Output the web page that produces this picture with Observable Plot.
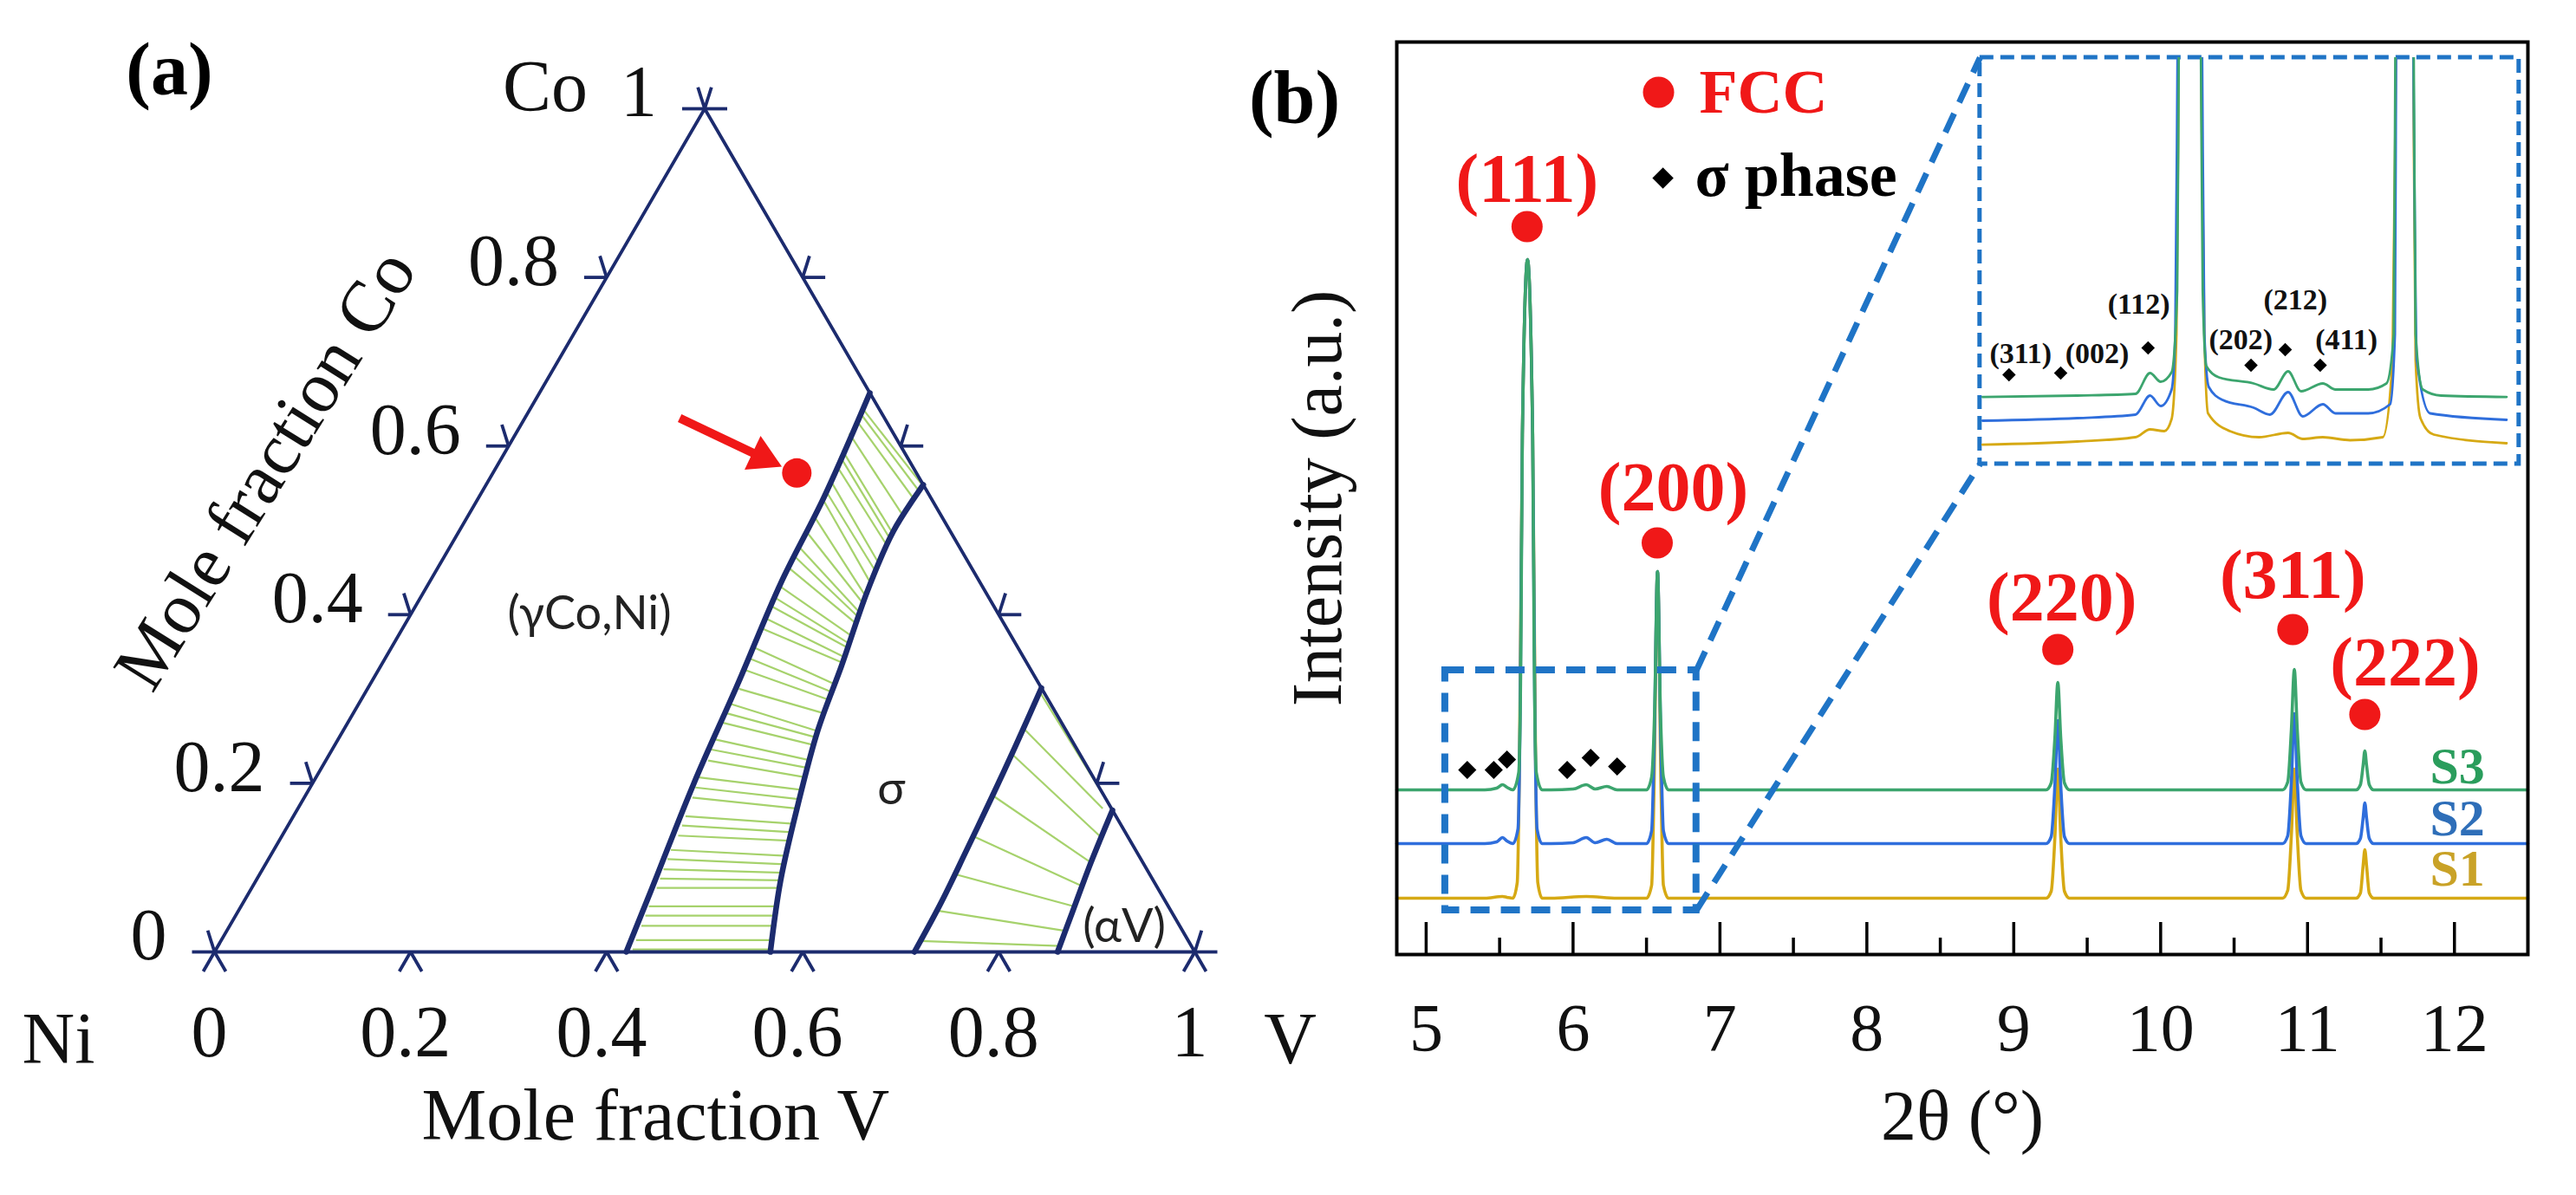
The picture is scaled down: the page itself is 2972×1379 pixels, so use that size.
<!DOCTYPE html>
<html><head><meta charset="utf-8">
<script src="https://cdn.jsdelivr.net/npm/d3@7"></script>
<script src="https://cdn.jsdelivr.net/npm/@observablehq/plot@0.6"></script>
<style>
body{margin:0;background:#fff;}
#wrap{position:relative;width:2972px;height:1379px;overflow:hidden;background:#fff;}
#wrap svg{position:absolute;background:transparent !important;max-width:none !important;overflow:visible;}
</style></head><body><div id="wrap"></div>
<script>
// ================= Panel (a): Ni–Co–V ternary section =================
const ternTicks = [0, 0.2, 0.4, 0.6, 0.8, 1];
const ternTickLabels = ["0", "0.2", "0.4", "0.6", "0.8", "1"];
// phase boundaries, points as [V, Co] mole fractions
const boundaryGammaSide = [[0.420,0],[0.409,0.072],[0.389,0.200],[0.375,0.317],[0.359,0.437],[0.352,0.540],[0.337,0.663]];
const boundarySigmaLeft = [[0.567,0],[0.535,0.085],[0.508,0.174],[0.484,0.263],[0.470,0.339],[0.452,0.428],[0.443,0.499],[0.446,0.554]];
const boundarySigmaRight = [[0.714,0],[0.712,0.058],[0.707,0.119],[0.701,0.185],[0.695,0.244],[0.687,0.313]];
const boundaryAlphaSide = [[0.860,0],[0.851,0.050],[0.841,0.106],[0.832,0.168]];
// tie-lines [V1, Co1, V2, Co2]
const tieLinesGammaSigma = [
  [0.337,0.646,0.446,0.553],[0.338,0.640,0.446,0.546],[0.339,0.631,0.445,0.537],[0.340,0.615,0.444,0.517],[0.343,0.595,0.443,0.497],
  [0.344,0.588,0.444,0.490],[0.346,0.577,0.445,0.482],[0.348,0.560,0.447,0.461],[0.349,0.548,0.448,0.452],[0.350,0.539,0.449,0.439],
  [0.353,0.517,0.451,0.424],[0.354,0.499,0.453,0.415],[0.354,0.482,0.455,0.404],[0.356,0.470,0.457,0.398],[0.359,0.455,0.459,0.390],
  [0.361,0.433,0.462,0.375],[0.362,0.420,0.464,0.366],[0.363,0.410,0.465,0.361],[0.366,0.395,0.467,0.350],[0.368,0.383,0.469,0.343],
  [0.370,0.361,0.475,0.317],[0.372,0.348,0.476,0.308],[0.375,0.334,0.477,0.299],[0.379,0.312,0.480,0.283],[0.380,0.294,0.487,0.261],
  [0.381,0.283,0.488,0.254],[0.382,0.272,0.490,0.245],[0.385,0.252,0.495,0.227],[0.387,0.240,0.497,0.218],[0.390,0.227,0.500,0.207],
  [0.391,0.207,0.504,0.192],[0.393,0.195,0.507,0.181],[0.396,0.183,0.510,0.170],[0.400,0.161,0.515,0.152],[0.402,0.150,0.518,0.142],
  [0.404,0.138,0.520,0.132],[0.405,0.121,0.526,0.114],[0.407,0.110,0.530,0.104],[0.409,0.098,0.533,0.094],[0.411,0.087,0.536,0.085],
  [0.413,0.076,0.539,0.076],[0.416,0.054,0.548,0.054],[0.418,0.043,0.552,0.043],[0.420,0.031,0.556,0.031],[0.423,0.014,0.563,0.014],
  [0.425,0.003,0.567,0.003]
];
const tieLinesSigmaAlpha = [
  [0.687,0.309,0.822,0.178],[0.693,0.265,0.821,0.170],[0.697,0.234,0.835,0.137],[0.702,0.185,0.841,0.106],
  [0.706,0.137,0.846,0.078],[0.710,0.092,0.850,0.054],[0.713,0.049,0.855,0.025],[0.714,0.013,0.859,0.007]
];
const alloyPoint = [0.310, 0.568];
const arrowTail = [0.158, 0.633];
const arrowTip = [0.290, 0.576];
const phaseNames = ["(γCo,Ni)", "σ", "(αV)"];
const phaseV = [0.182, 0.594, 0.913];
const phaseCo = [0.401, 0.193, 0.030];

// ================= Panel (b): XRD patterns =================
const degTicks = [5, 6, 7, 8, 9, 10, 11, 12];
const degMinor = [5.5, 6.5, 7.5, 8.5, 9.5, 10.5, 11.5];
const seriesNames = ["S1", "S2", "S3"];
const S1 = [[4.80,6.5],[5.40,6.5],[5.52,6.7],[5.55,6.6],[5.59,6.5],[5.62,8.3],[5.635,22],[5.655,60],[5.69,80.2],[5.725,60],[5.745,22],[5.76,8.3],[5.79,6.5],
  [5.85,6.5],[6.09,6.7],[6.30,6.5],[6.50,6.5],[6.535,8],[6.55,18],[6.575,44.2],[6.60,18],[6.615,8],[6.65,6.5],
  [9.22,6.5],[9.255,7.3],[9.28,13.5],[9.30,21.4],[9.32,13.5],[9.345,7.3],[9.38,6.5],
  [10.83,6.5],[10.865,7.4],[10.89,13.8],[10.91,21.4],[10.93,13.8],[10.955,7.4],[10.99,6.5],
  [11.33,6.5],[11.36,7.1],[11.378,10.2],[11.39,12.1],[11.402,10.2],[11.42,7.1],[11.45,6.5],[12.50,6.5]];
const S2 = [[4.80,12.8],[5.40,12.8],[5.48,13.0],[5.52,13.5],[5.55,13.1],[5.59,12.8],[5.625,14.5],[5.64,28],[5.655,60],[5.69,80.2],[5.725,60],[5.74,28],[5.755,14.5],[5.79,12.8],
  [5.85,12.8],[6.0,12.9],[6.09,13.5],[6.15,12.9],[6.23,13.3],[6.30,12.8],[6.50,12.8],[6.535,14.3],[6.552,24],[6.575,44.2],[6.598,24],[6.615,14.3],[6.65,12.8],
  [9.22,12.8],[9.255,13.6],[9.28,19.5],[9.30,27],[9.32,19.5],[9.345,13.6],[9.38,12.8],
  [10.83,12.8],[10.865,13.7],[10.89,20],[10.91,27.8],[10.93,20],[10.955,13.7],[10.99,12.8],
  [11.33,12.8],[11.36,13.4],[11.378,15.7],[11.39,17.5],[11.402,15.7],[11.42,13.4],[11.45,12.8],[12.50,12.8]];
const S3 = [[4.80,19.0],[5.40,19.0],[5.48,19.2],[5.52,19.6],[5.55,19.3],[5.59,19.0],[5.63,21],[5.645,35],[5.655,60],[5.69,80.2],[5.725,60],[5.735,35],[5.75,21],[5.79,19.0],
  [5.85,19.0],[6.0,19.1],[6.09,19.6],[6.15,19.1],[6.23,19.4],[6.30,19.0],[6.50,19.0],[6.535,20.5],[6.555,28],[6.575,44.2],[6.595,28],[6.615,20.5],[6.65,19.0],
  [9.22,19.0],[9.255,19.8],[9.28,25],[9.30,31.4],[9.32,25],[9.345,19.8],[9.38,19.0],
  [10.83,19.0],[10.865,19.9],[10.89,26],[10.91,32.9],[10.93,26],[10.955,19.9],[10.99,19.0],
  [11.33,19.0],[11.36,19.6],[11.378,21.8],[11.39,23.5],[11.402,21.8],[11.42,19.6],[11.45,19.0],[12.50,19.0]];
const seriesLabelI = [9.9, 15.7, 21.7];
const seriesLabelX = 12.02;
// FCC peaks: hkl, marker position, label position
const fccHkl = ["(111)", "(200)", "(220)", "(311)", "(222)"];
const fccDotX = [5.687, 6.573, 9.30, 10.90, 11.39];
const fccDotI = [84.0, 47.5, 35.2, 37.5, 27.7];
const fccLabelX = [5.687, 6.682, 9.327, 10.90, 11.665];
const fccLabelI = [89.4, 53.8, 41.1, 43.7, 33.6];
// sigma-phase markers in main pattern
const sigmaX = [5.28, 5.46, 5.55, 5.96, 6.12, 6.30];
const sigmaI = [21.3, 21.3, 22.5, 21.3, 22.7, 21.7];
// zoom box and inset box (main-plot data units)
const zoomBox = {x1: 5.13, x2: 6.84, y1: 5.1, y2: 32.8};
const insetBox = {x1: 8.77, x2: 12.44, y1: 56.6, y2: 103.5};
// inset patterns (2θ, inset intensity)
const insetS1 = [[4.836,2.24],[5.226,2.6],[5.466,3.1],[5.526,4.0],[5.585,3.8],[5.615,5.2],[5.635,15],[5.645,50],[5.69,200],[5.735,50],[5.75,15],[5.765,5.85],
  [5.855,3.8],[5.975,3.1],[6.095,3.6],[6.155,2.9],[6.238,3.1],[6.35,2.75],[6.485,3.1],[6.525,12],[6.54,50],[6.575,200],[6.61,50],[6.62,12],[6.64,5.3],[6.695,3.4],[6.995,2.4]];
const insetS2 = [[4.836,5.0],[5.226,5.3],[5.466,5.7],[5.526,7.9],[5.570,6.7],[5.615,8.6],[5.63,15],[5.64,50],[5.69,200],[5.74,50],[5.75,15],[5.768,8.9],
  [5.825,7.4],[5.953,6.5],[6.02,5.7],[6.095,8.3],[6.155,5.5],[6.238,6.9],[6.29,5.85],[6.425,5.85],[6.515,6.9],[6.535,15],[6.54,50],[6.575,200],[6.61,50],[6.625,12],[6.68,5.85],[6.995,5.1]];
const insetS3 = [[4.836,7.74],[5.226,7.9],[5.466,8.1],[5.526,10.5],[5.570,9.5],[5.615,10.6],[5.638,20],[5.645,50],[5.69,200],[5.735,50],[5.743,20],[5.758,11.3],
  [5.810,10.0],[5.953,9.3],[6.035,8.6],[6.095,10.7],[6.148,8.4],[6.238,9.3],[6.29,8.6],[6.425,8.6],[6.50,9.3],[6.53,15],[6.537,50],[6.575,200],[6.612,50],[6.62,15],[6.65,8.6],[6.725,7.9],[6.995,7.74]];
const insetHkl = ["(311)", "(002)", "(112)", "(202)", "(212)", "(411)"];
const insetMarkX = [4.945, 5.158, 5.518, 5.942, 6.083, 6.227];
const insetMarkI = [10.3, 10.5, 13.4, 11.4, 13.2, 11.4];
const insetLabelX = [4.993, 5.308, 5.48, 5.90, 6.125, 6.335];
const insetLabelI = [12.7, 12.7, 18.4, 14.3, 18.9, 14.3];

// ================= styling =================
const SERIF = "Liberation Serif, Times New Roman, serif";
const NAVY = "#1c2b6e", TIE = "#a6d26c", RED = "#f01818", BOXBLUE = "#1f74c6";
const seriesColors = ["#d6a914", "#2f6edc", "#3ca56e"];
const labelColors = ["#c9a227", "#2e6eb8", "#2a9d5c"];
const wrap = document.getElementById("wrap");

// ---------- Panel (a) ----------
const W_A = 1540, H_A = 1379, mlA = 247, mrA = 162, mtA = 125, mbA = 281;
const kx = W_A - mlA - mrA, ky = H_A - mtA - mbA;
const tx = ([V, Co]) => V + Co / 2;
const ty = ([V, Co]) => Co;
const edges = [[0,0],[1,0],[0,1],[0,0]];
const legPx = 26;
const legs = [];
for (const t of ternTicks) {
  const anchors = [
    {p: [t, 0], d: [[-0.5,-0.866],[0.5,-0.866]]},
    {p: [0, t], d: [[-1,0],[-0.3,0.95]]},
    {p: [1 - t, t], d: [[1,0],[0.3,0.95]]}
  ];
  for (const a of anchors) for (const [ux, uy] of a.d) {
    const x = tx(a.p), y = ty(a.p);
    legs.push({x1: x, y1: y, x2: x + ux * legPx / kx, y2: y + uy * legPx / ky});
  }
}
// arrow geometry (screen direction from tail to tip)
const adx = (tx(arrowTip) - tx(arrowTail)) * kx, ady = -(ty(arrowTip) - ty(arrowTail)) * ky;
const alen = Math.hypot(adx, ady), ux = adx / alen, uy = ady / alen;
const angleDeg = Math.atan2(ady, adx) * 180 / Math.PI;
const back = px => [tx(arrowTip) - ux * px / kx, ty(arrowTip) + uy * px / ky];
const headCenter = back(24), shaftEnd = back(30);

const tieLink = arr => Plot.link(arr, {x1: d => d[0] + d[1]/2, y1: d => d[1], x2: d => d[2] + d[3]/2, y2: d => d[3], stroke: TIE, strokeWidth: 2.2});
const bLine = arr => Plot.line(arr, {x: tx, y: ty, stroke: NAVY, strokeWidth: 6.5, curve: "catmull-rom"});

const plotA = Plot.plot({
  width: W_A, height: H_A, marginLeft: mlA, marginRight: mrA, marginTop: mtA, marginBottom: mbA,
  x: {domain: [0, 1], axis: null}, y: {domain: [0, 1], axis: null},
  style: {background: "transparent", overflow: "visible"},
  marks: [
    tieLink(tieLinesGammaSigma),
    tieLink(tieLinesSigmaAlpha),
    Plot.line(edges, {x: tx, y: ty, stroke: NAVY, strokeWidth: 3.8}),
    Plot.link(legs, {x1: "x1", y1: "y1", x2: "x2", y2: "y2", stroke: NAVY, strokeWidth: 3.8}),
    bLine(boundaryGammaSide), bLine(boundarySigmaLeft), bLine(boundarySigmaRight), bLine(boundaryAlphaSide),
    Plot.link([0], {x1: tx(arrowTail), y1: ty(arrowTail), x2: shaftEnd[0], y2: shaftEnd[1], stroke: RED, strokeWidth: 10}),
    Plot.dot([headCenter], {x: d => d[0], y: d => d[1], symbol: "triangle", r: 16, rotate: 90 + angleDeg, fill: RED, stroke: "none"}),
    Plot.dot([alloyPoint], {x: tx, y: ty, r: 17, fill: RED, stroke: "none"}),
    Plot.text(ternTicks, {x: t => t/2, y: t => t, text: (t, i) => ternTickLabels[i], textAnchor: "end", dx: -55, dy: -18, fontSize: 84, fontFamily: SERIF, fill: "#111"}),
    Plot.text(ternTicks, {x: t => t, y: 0, text: (t, i) => ternTickLabels[i], dx: -6, dy: 94, fontSize: 84, fontFamily: SERIF, fill: "#111"}),
    Plot.text(["Co"], {x: 0.5, y: 1, textAnchor: "end", dx: -135, dy: -24, fontSize: 84, fontFamily: SERIF, fill: "#111"}),
    Plot.text(["Ni"], {x: 0, y: 0, dx: -180, dy: 102, fontSize: 84, fontFamily: SERIF, fill: "#111"}),
    Plot.text(["V"], {x: 1, y: 0, dx: 110, dy: 102, fontSize: 84, fontFamily: SERIF, fill: "#111"}),
    Plot.text(["Mole fraction V"], {x: 0.45, y: 0, dy: 190, fontSize: 84, fontFamily: SERIF, fill: "#111"}),
    Plot.text(["Mole fraction Co"], {x: 0.052, y: 0.572, rotate: -58, fontSize: 84, fontFamily: SERIF, fill: "#111"}),
    Plot.text(phaseNames, {x: (d, i) => phaseV[i] + phaseCo[i]/2, y: (d, i) => phaseCo[i], text: d => d, fontSize: 54, fontFamily: "Lato, Carlito, sans-serif", fill: "#222"}),
    Plot.text(["(a)"], {frameAnchor: "top-left", textAnchor: "middle", lineAnchor: "middle", dx: -52, dy: -44, fontSize: 86, fontWeight: "bold", fontFamily: SERIF, fill: "#000"})
  ]
});
plotA.style.left = "0px"; plotA.style.top = "0px";
wrap.appendChild(plotA);

// ---------- Panel (b) ----------
const W_B = 1552, H_B = 1379, mlB = 191, mrB = 56, mtB = 48, mbB = 278, leftB = 1420;
const xDomB = [4.8, 12.5], yDomB = [0, 105.3];
const pxB = v => leftB + mlB + (v - xDomB[0]) / (xDomB[1] - xDomB[0]) * (W_B - mlB - mrB);
const pyB = v => mtB + (1 - (v - yDomB[0]) / (yDomB[1] - yDomB[0])) * (H_B - mtB - mbB);
const seriesData = [S1, S2, S3];

const plotB = Plot.plot({
  width: W_B, height: H_B, marginLeft: mlB, marginRight: mrB, marginTop: mtB, marginBottom: mbB,
  x: {domain: xDomB, axis: null}, y: {domain: yDomB, axis: null},
  style: {background: "transparent", overflow: "visible"},
  marks: [
    ...seriesData.map((s, i) => Plot.line(s, {x: d => d[0], y: d => d[1], stroke: seriesColors[i], strokeWidth: 3.6, curve: "monotone-x"})),
    Plot.ruleX(degTicks, {x: d => d, y1: 0, y2: 3.7, stroke: "#000", strokeWidth: 3.5}),
    Plot.ruleX(degMinor, {x: d => d, y1: 0, y2: 1.9, stroke: "#000", strokeWidth: 3.5}),
    Plot.frame({stroke: "#000", strokeWidth: 4}),
    Plot.text(degTicks, {x: d => d, y: 0, text: d => String(d), dy: 86, fontSize: 78, fontFamily: SERIF, fill: "#111"}),
    Plot.text(["2θ (°)"], {frameAnchor: "bottom", textAnchor: "middle", lineAnchor: "middle", dy: 187, fontSize: 82, fontFamily: SERIF, fill: "#111"}),
    Plot.text(["Intensity (a.u.)"], {frameAnchor: "left", textAnchor: "middle", lineAnchor: "middle", dx: -91, rotate: -90, fontSize: 82, fontFamily: SERIF, fill: "#111"}),
    Plot.text(["(b)"], {frameAnchor: "top-left", textAnchor: "middle", lineAnchor: "middle", dx: -118, dy: 65, fontSize: 86, fontWeight: "bold", fontFamily: SERIF, fill: "#000"}),
    // zoom box, connectors, inset frame
    Plot.rect([zoomBox], {x1: "x1", x2: "x2", y1: "y1", y2: "y2", fill: "none", stroke: BOXBLUE, strokeWidth: 8, strokeDasharray: "22,13"}),
    Plot.link([0, 1], {x1: zoomBox.x2, y1: i => i ? zoomBox.y1 : zoomBox.y2, x2: insetBox.x1, y2: i => i ? insetBox.y1 : insetBox.y2, stroke: BOXBLUE, strokeWidth: 7, strokeDasharray: "24,14"}),
    Plot.rect([insetBox], {x1: "x1", x2: "x2", y1: "y1", y2: "y2", fill: "none", stroke: BOXBLUE, strokeWidth: 5, strokeDasharray: "16,8"}),
    // FCC markers and labels
    Plot.dot(fccHkl, {x: (d, i) => fccDotX[i], y: (d, i) => fccDotI[i], r: 18, fill: RED, stroke: "none"}),
    Plot.text(fccHkl, {x: (d, i) => fccLabelX[i], y: (d, i) => fccLabelI[i], text: d => d, fontSize: 80, fontWeight: "bold", fontFamily: SERIF, fill: RED}),
    // sigma markers
    Plot.dot(sigmaX, {x: d => d, y: (d, i) => sigmaI[i], symbol: "diamond2", r: 9.5, fill: "#000", stroke: "none"}),
    // series labels
    Plot.text(seriesNames, {x: seriesLabelX, y: (d, i) => seriesLabelI[i], text: d => d, fill: (d, i) => labelColors[i], fontSize: 60, fontWeight: "bold", fontFamily: SERIF}),
    // legend
    Plot.dot([0], {x: 6.582, y: 99.5, r: 18, fill: RED, stroke: "none"}),
    Plot.text(["FCC"], {x: 6.859, y: 99.5, textAnchor: "start", fontSize: 72, fontWeight: "bold", fontFamily: SERIF, fill: RED}),
    Plot.dot([0], {x: 6.612, y: 89.6, symbol: "diamond2", r: 11, fill: "#000", stroke: "none"}),
    Plot.text(["σ phase"], {x: 6.830, y: 89.9, textAnchor: "start", fontSize: 72, fontWeight: "bold", fontFamily: SERIF, fill: "#000"})
  ]
});
plotB.style.left = leftB + "px"; plotB.style.top = "0px";
wrap.appendChild(plotB);

// ---------- Inset ----------
const inLeft = pxB(insetBox.x1), inRight = pxB(insetBox.x2);
const inTop = pyB(insetBox.y2), inBottom = pyB(insetBox.y1);
const insetData = [insetS1, insetS2, insetS3];
const plotInset = Plot.plot({
  width: Math.round(inRight - inLeft), height: Math.round(inBottom - inTop),
  marginLeft: 0, marginRight: 0, marginTop: 0, marginBottom: 0,
  x: {domain: [4.826, 7.047], axis: null}, y: {domain: [0, 46.9], axis: null},
  style: {background: "transparent", overflow: "visible"},
  marks: [
    ...insetData.map((s, i) => Plot.line(s, {x: d => d[0], y: d => d[1], stroke: seriesColors[i], strokeWidth: 2.8, curve: "monotone-x", clip: true})),
    Plot.dot(insetHkl, {x: (d, i) => insetMarkX[i], y: (d, i) => insetMarkI[i], symbol: "diamond2", r: 7, fill: "#000", stroke: "none"}),
    Plot.text(insetHkl, {x: (d, i) => insetLabelX[i], y: (d, i) => insetLabelI[i], text: d => d, fontSize: 34, fontWeight: "bold", fontFamily: SERIF, fill: "#111"})
  ]
});
plotInset.style.left = Math.round(inLeft) + "px"; plotInset.style.top = Math.round(inTop) + "px";
wrap.appendChild(plotInset);
</script></body></html>
